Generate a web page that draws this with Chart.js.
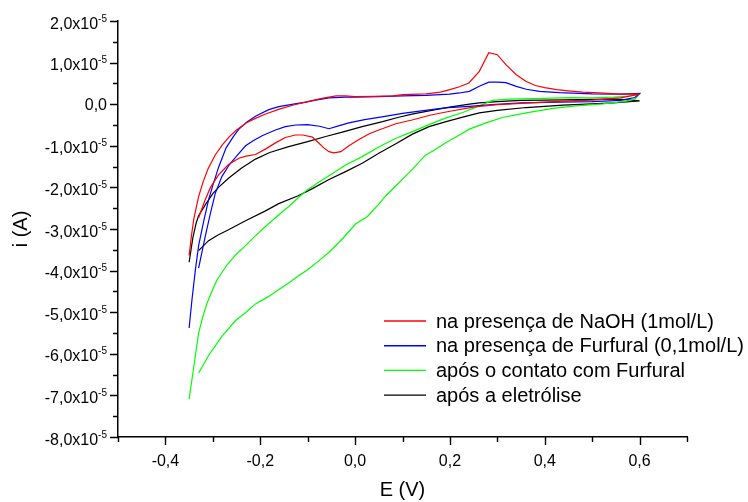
<!DOCTYPE html>
<html lang="pt">
<head>
<meta charset="UTF-8">
<title>Voltametria cíclica</title>
<style>
  body { margin: 0; background: #fff; }
  #wrap { width: 748px; height: 502px; }
</style>
<script src="https://cdn.jsdelivr.net/npm/chart.js"></script>
</head>
<body>
<div id="wrap"><canvas id="cv" width="748" height="502"></canvas></div>
<script>
// Potential E (V) and current i (x1e-5 A) for each voltammogram,
// forward sweep first, then the return sweep.
const naohE = [-0.350, -0.345, -0.340, -0.330, -0.320, -0.310, -0.295, -0.280, -0.265, -0.250, -0.230, -0.210, -0.190, -0.160, -0.130, -0.100, -0.070, -0.040, -0.020, 0.000, 0.040, 0.080, 0.100, 0.150, 0.180, 0.200, 0.220, 0.240, 0.262, 0.282, 0.300, 0.318, 0.340, 0.360, 0.380, 0.400, 0.425, 0.450, 0.480, 0.515, 0.560, 0.600,
  0.560, 0.500, 0.450, 0.400, 0.350, 0.300, 0.262, 0.240, 0.200, 0.160, 0.120, 0.086, 0.050, 0.030, 0.008, -0.013, -0.030, -0.045, -0.055, -0.066, -0.076, -0.090, -0.110, -0.126, -0.147, -0.168, -0.189, -0.210, -0.230, -0.245, -0.267, -0.288, -0.305, -0.318, -0.330];
const naohI = [-3.64, -3.15, -2.75, -2.22, -1.85, -1.55, -1.22, -0.98, -0.78, -0.62, -0.45, -0.34, -0.24, -0.12, -0.02, 0.06, 0.14, 0.20, 0.20, 0.18, 0.19, 0.20, 0.23, 0.25, 0.29, 0.35, 0.42, 0.51, 0.79, 1.24, 1.19, 0.95, 0.71, 0.55, 0.45, 0.40, 0.35, 0.32, 0.29, 0.27, 0.24, 0.24,
  0.15, 0.10, 0.08, 0.05, 0.02, -0.01, -0.05, -0.09, -0.17, -0.26, -0.38, -0.47, -0.62, -0.71, -0.85, -1.00, -1.14, -1.17, -1.14, -1.05, -0.94, -0.79, -0.74, -0.74, -0.80, -0.93, -1.08, -1.21, -1.25, -1.30, -1.45, -1.70, -2.00, -2.35, -2.73];

const furfE = [-0.350, -0.344, -0.337, -0.330, -0.319, -0.309, -0.300, -0.288, -0.272, -0.255, -0.245, -0.228, -0.210, -0.182, -0.161, -0.130, -0.104, -0.083, -0.055, -0.020, 0.000, 0.050, 0.100, 0.150, 0.199, 0.220, 0.241, 0.262, 0.282, 0.300, 0.318, 0.340, 0.361, 0.389, 0.431, 0.500, 0.560, 0.600,
  0.590, 0.560, 0.500, 0.430, 0.350, 0.290, 0.240, 0.190, 0.140, 0.100, 0.060, 0.020, -0.013, -0.035, -0.055, -0.075, -0.100, -0.125, -0.147, -0.168, -0.196, -0.215, -0.231, -0.250, -0.265, -0.281, -0.295, -0.305, -0.316, -0.330];
const furfI = [-5.38, -4.70, -4.00, -3.40, -2.80, -2.30, -1.95, -1.52, -1.05, -0.75, -0.60, -0.43, -0.29, -0.13, -0.06, 0.00, 0.05, 0.10, 0.15, 0.17, 0.17, 0.18, 0.20, 0.21, 0.24, 0.27, 0.31, 0.43, 0.53, 0.53, 0.52, 0.43, 0.36, 0.31, 0.28, 0.25, 0.24, 0.26,
  0.16, 0.09, 0.06, 0.05, 0.03, -0.01, -0.05, -0.09, -0.16, -0.22, -0.30, -0.37, -0.45, -0.52, -0.59, -0.53, -0.49, -0.50, -0.54, -0.62, -0.76, -0.88, -1.00, -1.25, -1.45, -1.74, -2.15, -2.62, -3.18, -3.94];

const contatoE = [-0.350, -0.340, -0.330, -0.321, -0.312, -0.300, -0.291, -0.270, -0.250, -0.231, -0.210, -0.189, -0.165, -0.140, -0.120, -0.101, -0.080, -0.055, -0.020, 0.015, 0.050, 0.086, 0.121, 0.156, 0.192, 0.227, 0.262, 0.290, 0.325, 0.396, 0.452, 0.501, 0.545, 0.572, 0.600,
  0.590, 0.565, 0.523, 0.466, 0.417, 0.361, 0.311, 0.276, 0.241, 0.220, 0.192, 0.165, 0.149, 0.121, 0.100, 0.086, 0.065, 0.050, 0.026, 0.001, -0.027, -0.055, -0.076, -0.100, -0.120, -0.140, -0.160, -0.182, -0.210, -0.230, -0.252, -0.281, -0.309, -0.330];
const contatoI = [-7.09, -6.30, -5.50, -5.10, -4.78, -4.45, -4.22, -3.86, -3.60, -3.40, -3.16, -2.94, -2.70, -2.46, -2.25, -2.06, -1.90, -1.72, -1.46, -1.26, -1.03, -0.82, -0.66, -0.49, -0.33, -0.20, -0.04, 0.09, 0.12, 0.14, 0.16, 0.15, 0.17, 0.19, 0.24,
  0.12, 0.06, 0.01, -0.04, -0.10, -0.21, -0.32, -0.45, -0.60, -0.74, -0.92, -1.12, -1.22, -1.56, -1.80, -1.96, -2.20, -2.40, -2.70, -2.88, -3.24, -3.56, -3.76, -3.98, -4.13, -4.30, -4.45, -4.62, -4.80, -5.00, -5.20, -5.58, -6.04, -6.46];

const eletroE = [-0.350, -0.342, -0.335, -0.330, -0.316, -0.300, -0.288, -0.267, -0.240, -0.210, -0.180, -0.140, -0.100, -0.060, -0.027, 0.015, 0.058, 0.090, 0.120, 0.156, 0.199, 0.241, 0.262, 0.300, 0.350, 0.400, 0.473, 0.530, 0.572, 0.600,
  0.544, 0.500, 0.438, 0.361, 0.300, 0.262, 0.227, 0.192, 0.156, 0.121, 0.086, 0.050, 0.015, -0.020, -0.055, -0.090, -0.120, -0.161, -0.190, -0.231, -0.267, -0.290, -0.309, -0.330];
const eletroI = [-3.80, -3.20, -2.85, -2.68, -2.42, -2.15, -2.00, -1.78, -1.54, -1.32, -1.16, -1.02, -0.90, -0.77, -0.67, -0.54, -0.42, -0.32, -0.24, -0.16, -0.07, 0.00, 0.03, 0.06, 0.09, 0.10, 0.11, 0.12, 0.11, 0.08,
  0.03, 0.01, -0.02, -0.08, -0.15, -0.21, -0.31, -0.42, -0.54, -0.72, -0.95, -1.18, -1.42, -1.62, -1.81, -2.03, -2.20, -2.39, -2.57, -2.80, -3.02, -3.15, -3.28, -3.52];

const seriesLabels = [
  'na presença de NaOH (1mol/L)',
  'na presença de Furfural (0,1mol/L)',
  'após o contato com Furfural',
  'após a eletrólise'
];
const seriesColors = ['#ff0000', '#0000ff', '#00ff00', '#000000'];

// axis ticks (E in V, i in 1e-5 A)
const xMajor = [-0.4, -0.2, 0.0, 0.2, 0.4, 0.6];
const xMinor = [-0.5, -0.3, -0.1, 0.1, 0.3, 0.5, 0.7];
const yMajor = [2, 1, 0, -1, -2, -3, -4, -5, -6, -7, -8];
const yMinor = [1.5, 0.5, -0.5, -1.5, -2.5, -3.5, -4.5, -5.5, -6.5, -7.5];

const FONT = "'Liberation Sans', Arial, Helvetica, sans-serif";

function toPoints(es, is) {
  return es.map((e, k) => ({x: e, y: is[k]}));
}

const curves = [[naohE, naohI], [furfE, furfI], [contatoE, contatoI], [eletroE, eletroI]];

const datasets = curves.map(([es, is], k) => ({
  label: seriesLabels[k],
  data: toPoints(es, is),
  borderColor: seriesColors[k],
  backgroundColor: seriesColors[k],
  borderWidth: 1.2,
  showLine: true,
  pointRadius: 0,
  tension: 0,
  fill: false
}));

function fmt(v) {
  return v.toFixed(1).replace('.', ',').replace('-0,0', '0,0');
}

// tick marks, y labels with exponent, and the legend box
const decorations = {
  id: 'decorations',
  afterDraw(chart) {
    const {ctx, chartArea: area, scales: {x, y}} = chart;
    ctx.save();
    ctx.strokeStyle = '#000';
    ctx.lineWidth = 1.4;
    ctx.beginPath();
    const xTick = (v, len) => {
      const px = Math.round(x.getPixelForValue(v)) + 0.5;
      ctx.moveTo(px, area.bottom);
      ctx.lineTo(px, area.bottom + len);
    };
    const yTick = (v, len) => {
      const py = Math.round(y.getPixelForValue(v)) + 0.5;
      ctx.moveTo(area.left, py);
      ctx.lineTo(area.left - len, py);
    };
    xMajor.forEach(v => xTick(v, 8));
    xMinor.forEach(v => xTick(v, 5));
    yMajor.forEach(v => yTick(v, 8));
    yMinor.forEach(v => yTick(v, 5));
    ctx.stroke();

    ctx.fillStyle = '#000';
    ctx.textAlign = 'right';
    ctx.textBaseline = 'alphabetic';
    const right = area.left - 11;
    yMajor.forEach(v => {
      const py = y.getPixelForValue(v);
      if (v === 0) {
        ctx.font = `16px ${FONT}`;
        ctx.fillText('0,0', right, py + 6);
        return;
      }
      ctx.font = `10px ${FONT}`;
      ctx.fillText('-5', right, py + 0.5);
      const w = ctx.measureText('-5').width;
      ctx.font = `16px ${FONT}`;
      ctx.fillText(fmt(v) + 'x10', right - w, py + 7.5);
    });

    // legend
    ctx.textAlign = 'left';
    ctx.font = `20px ${FONT}`;
    chart.data.datasets.forEach((ds, k) => {
      const ly = 321 + k * 24.7;
      ctx.strokeStyle = ds.borderColor;
      ctx.lineWidth = 1.4;
      ctx.beginPath();
      ctx.moveTo(384, ly);
      ctx.lineTo(426, ly);
      ctx.stroke();
      ctx.fillStyle = '#000';
      ctx.fillText(ds.label, 436, ly + 6.5);
    });
    ctx.restore();
  }
};

new Chart(document.getElementById('cv'), {
  type: 'scatter',
  data: {datasets},
  options: {
    responsive: false,
    devicePixelRatio: 1,
    animation: false,
    layout: {padding: {top: 21, right: 61, bottom: 0, left: 0}},
    plugins: {legend: {display: false}, tooltip: {enabled: false}},
    scales: {
      x: {
        type: 'linear',
        min: -0.5,
        max: 0.7,
        afterFit(s) { s.height = 65; },
        border: {display: true, color: '#000', width: 1.5},
        grid: {drawOnChartArea: false, drawTicks: true, tickLength: 8, color: 'rgba(0,0,0,0)'},
        ticks: {
          stepSize: 0.1,
          autoSkip: false,
          maxRotation: 0,
          padding: 7,
          color: '#000',
          font: {family: FONT, size: 16},
          callback: v => xMajor.some(t => Math.abs(t - v) < 1e-6) ? fmt(v) : ''
        },
        title: {display: true, text: 'E (V)', color: '#000', font: {family: FONT, size: 20}, padding: {top: 0, bottom: 0}}
      },
      y: {
        type: 'linear',
        min: -8,
        max: 2,
        afterFit(s) { s.width = 118; },
        border: {display: true, color: '#000', width: 1.5},
        grid: {display: false},
        ticks: {display: false, stepSize: 1},
        title: {display: true, text: 'i (A)', color: '#000', font: {family: FONT, size: 20}, padding: {top: 9, bottom: 0}}
      }
    }
  },
  plugins: [decorations]
});
</script>
</body>
</html>
